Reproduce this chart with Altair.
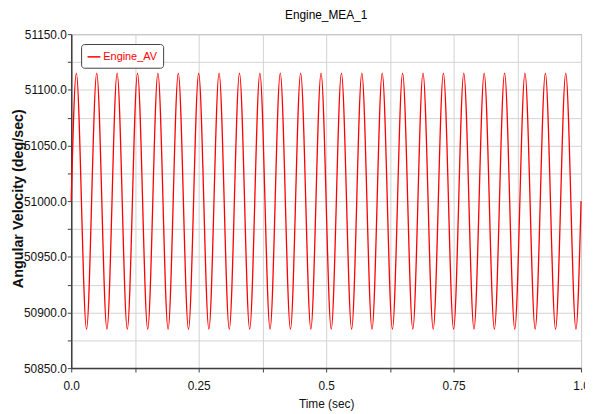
import altair as alt
import pandas as pd

# Values
peak_times = [0.01, 0.05, 0.09, 0.13, 0.17, 0.21, 0.25, 0.29, 0.33, 0.37, 0.41, 0.45, 0.49,
              0.53, 0.57, 0.61, 0.65, 0.69, 0.73, 0.77, 0.81, 0.85, 0.89, 0.93, 0.97]
peak_values = [51115.0, 51115.0, 51115.0, 51115.0, 51115.0, 51115.0, 51115.0, 51115.0, 51115.0,
               51115.0, 51115.0, 51115.0, 51115.0, 51115.0, 51115.0, 51115.0, 51115.0, 51115.0,
               51115.0, 51115.0, 51115.0, 51115.0, 51115.0, 51115.0, 51115.0]
trough_times = [0.03, 0.07, 0.11, 0.15, 0.19, 0.23, 0.27, 0.31, 0.35, 0.39, 0.43, 0.47, 0.51,
                0.55, 0.59, 0.63, 0.67, 0.71, 0.75, 0.79, 0.83, 0.87, 0.91, 0.95, 0.99]
trough_values = [50885.0, 50885.0, 50885.0, 50885.0, 50885.0, 50885.0, 50885.0, 50885.0, 50885.0,
                 50885.0, 50885.0, 50885.0, 50885.0, 50885.0, 50885.0, 50885.0, 50885.0, 50885.0,
                 50885.0, 50885.0, 50885.0, 50885.0, 50885.0, 50885.0, 50885.0]
start_point = (0.0, 51000.0)
end_point = (1.0, 51000.0)

series_name = "Engine_AV"
x_ticks = [0.0, 0.125, 0.25, 0.375, 0.5, 0.625, 0.75, 0.875, 1.0]
x_tick_labels = {0.0: "0.0", 0.25: "0.25", 0.5: "0.5", 0.75: "0.75", 1.0: "1.0"}
y_ticks = [50850, 50875, 50900, 50925, 50950, 50975, 51000, 51025, 51050, 51075, 51100, 51125, 51150]

times = [start_point[0]]
values = [start_point[1]]
for pt, pv, tt, tv in zip(peak_times, peak_values, trough_times, trough_values):
    times += [pt, tt]
    values += [pv, tv]
times.append(end_point[0])
values.append(end_point[1])

df = pd.DataFrame({"time": times, "value": values, "series": series_name})

narrow = "Liberation Sans Narrow, Arial Narrow, Liberation Sans, Arial, sans-serif"

x_expr = " : ".join(
    [f"datum.value == {k} ? '{v}'" for k, v in x_tick_labels.items()]
) + " : ''"

chart = alt.Chart(df).mark_line(
    interpolate="monotone", strokeWidth=1.3
).encode(
    x=alt.X("time:Q",
            scale=alt.Scale(domain=[0, 1], nice=False, zero=False),
            axis=alt.Axis(title="Time (sec)", values=x_ticks, labelExpr=x_expr,
                          labelFlush=False, grid=True, titleY=40,
                          titleBaseline="alphabetic")),
    y=alt.Y("value:Q",
            scale=alt.Scale(domain=[50850, 51150], nice=False, zero=False),
            axis=alt.Axis(title="Angular Velocity (deg/sec)", values=y_ticks,
                          labelExpr="datum.value % 50 === 0 ? format(datum.value, '.1f') : ''",
                          labelFlush=False, grid=True, titleFont="Liberation Sans",
                          titleFontSize=14.5, titleFontWeight="bold",
                          titleAngle=270, titleBaseline="bottom", titleAlign="center",
                          titleX=-46, titleY=166, labelPadding=1)),
    color=alt.Color("series:N",
                    scale=alt.Scale(domain=[series_name], range=["#ff0000"]),
                    legend=alt.Legend(title=None, orient="none", legendX=10, legendY=10,
                                      symbolType="stroke", symbolSize=169,
                                      symbolStrokeWidth=1.5, labelColor="#ff0000",
                                      labelFont=narrow, labelFontSize=11,
                                      strokeColor="#404040", fillColor="white",
                                      padding=5.5, cornerRadius=3, labelOffset=2)),
).properties(
    width=516, height=338,
    title=alt.TitleParams("Engine_MEA_1", font=narrow, fontSize=12, fontWeight="normal",
                          color="#000000", anchor="middle", offset=6),
    autosize=alt.AutoSizeParams(type="none"),
    padding={"left": 64, "top": 24, "right": 4, "bottom": 44},
).configure_view(
    stroke="#707070", strokeWidth=1
).configure_axis(
    labelFont=narrow, labelFontSize=12, labelColor="#111111",
    titleFont=narrow, titleFontSize=12, titleFontWeight="normal", titleColor="#111111",
    gridColor="#d2d2d2", gridWidth=1,
    domainColor="#404040", domainWidth=1.5,
    tickColor="#404040", tickSize=4, labelPadding=9,
)

chart.save("out.html", embed_options={"renderer": "svg", "actions": False})
